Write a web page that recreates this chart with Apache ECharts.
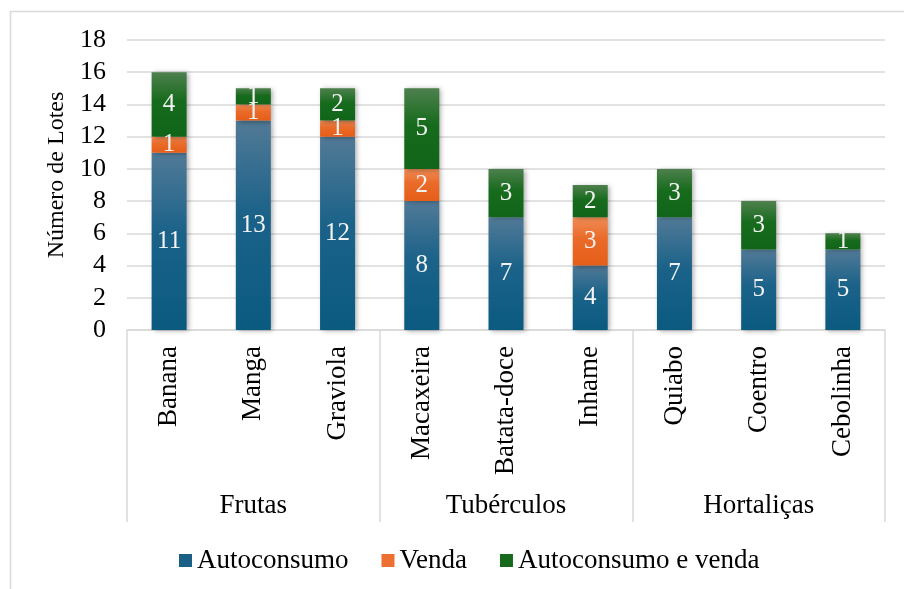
<!DOCTYPE html>
<html>
<head>
<meta charset="utf-8">
<script src="https://cdn.jsdelivr.net/npm/echarts@6/dist/echarts.min.js"></script>
<style>html,body{margin:0;padding:0;background:#fff;}#c{width:904px;height:589px;}</style>
</head>
<body>
<div id="c"></div>
<script>
const categories = ['Banana','Manga','Graviola','Macaxeira','Batata-doce','Inhame','Quiabo','Coentro','Cebolinha'];
const groups = ['Frutas','Tubérculos','Hortaliças'];
const autoconsumo = [11,13,12,8,7,4,7,5,5];
const venda = [1,1,1,2,0,3,0,0,0];
const autoVenda = [4,1,2,5,3,2,3,3,1];
const seriesNames = ['Autoconsumo','Venda','Autoconsumo e venda'];
const yTicks = {min:0, max:18, interval:2};

const FONT = '"Liberation Serif","Times New Roman",serif';
function grad(c0, c1, c2){
  return new echarts.graphic.LinearGradient(0,0,0,1,[
    {offset:0,color:c0},{offset:0.45,color:c1},{offset:1,color:c2}]);
}
const styles = [
  {color: grad('#527a97','#1b6289','#0b5a80'), legend:'#1a5f86'},
  {color: grad('#f08c55','#ea6a28','#e55e18'), legend:'#ee7030'},
  {color: grad('#4e804e','#176b1c','#10651a'), legend:'#17691c'}
];
const dataSets = [autoconsumo, venda, autoVenda];

const chart = echarts.init(document.getElementById('c'), null, {renderer:'canvas'});
chart.setOption({
  animation:false,
  backgroundColor:'#fff',
  textStyle:{fontFamily:FONT},
  graphic:[{type:'rect', shape:{x:10.5,y:11.5,width:1000,height:1000}, style:{fill:'none',stroke:'#d9d9d9',lineWidth:1.5}, silent:true, z:-10}],
  grid:{left:127,right:19,top:40,bottom:259},
  legend:{
    left:174, top:542, itemWidth:13, itemHeight:13, itemGap:33,
    textStyle:{fontFamily:FONT,fontSize:27,color:'#000'},
    icon:'rect',
    data: seriesNames.map((n,i)=>({name:n, itemStyle:{color:styles[i].legend}}))
  },
  xAxis:[{
    type:'category', data:categories, gridIndex:0, position:'bottom',
    axisLine:{show:true,lineStyle:{color:'#d9d9d9',width:1.5}},
    axisTick:{show:false},
    axisLabel:{rotate:90, margin:16, fontFamily:FONT, fontSize:27, color:'#000', interval:0}
  },{
    type:'category', data:groups, gridIndex:0, position:'bottom',
    axisLine:{show:false},
    axisTick:{show:true, length:192, interval:0, lineStyle:{color:'#d9d9d9',width:1.5}},
    axisLabel:{margin:162, fontFamily:FONT, fontSize:27, color:'#000', interval:0}
  }],
  yAxis:{
    type:'value', min:yTicks.min, max:yTicks.max, interval:yTicks.interval,
    name:'Número de Lotes', nameLocation:'middle', nameGap:48, nameRotate:90,
    nameTextStyle:{fontFamily:FONT,fontSize:24,color:'#000',padding:[0,0,0,20]},
    axisLine:{show:false}, axisTick:{show:false},
    axisLabel:{margin:21, fontFamily:FONT, fontSize:26, color:'#000'},
    splitLine:{lineStyle:{color:'#d9d9d9',width:1.5}}
  },
  series: seriesNames.map((n,i)=>({
    name:n, type:'bar', stack:'t', barWidth:35, xAxisIndex:0,
    data: dataSets[i].map(v => v === 0 ? null : v),
    itemStyle:{color:styles[i].color, shadowColor:'rgba(0,0,0,0.35)', shadowBlur:5, shadowOffsetX:2, shadowOffsetY:1},
    label:{show:true, position:'inside', fontFamily:FONT, fontSize:25, color:'#f2f2f2'}
  }))
});
</script>
</body>
</html>
